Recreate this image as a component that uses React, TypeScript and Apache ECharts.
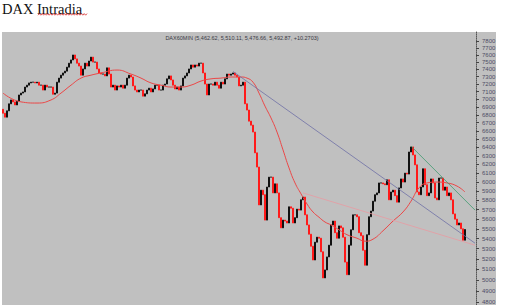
import React, { useEffect, useRef } from 'react';
import * as echarts from 'echarts';

// Hourly DAX closes (one per bar)
const closes: number[] = [
  6820, 6770, 6850, 6940, 6990, 6965, 6925, 6975, 7055, 7080, 7095, 7160, 7185, 7215, 7225, 7225, 7215, 7225, 7185, 7185,
  7120, 7185, 7160, 7160, 7160, 7065, 7080, 7225, 7280, 7320, 7350, 7375, 7430, 7485, 7530, 7600, 7545, 7485, 7445, 7320,
  7405, 7485, 7445, 7515, 7570, 7500, 7500, 7405, 7350, 7335, 7335, 7310, 7420, 7335, 7160, 7185, 7120, 7175, 7160, 7185,
  7145, 7185,
  7280, 7320, 7295, 7175, 7120, 7095, 7120, 7120, 7040, 7070, 7120, 7145, 7095, 7135, 7185, 7185, 7120, 7120, 7185, 7200,
  7270, 7310, 7255, 7185, 7135, 7160, 7120, 7175, 7280, 7310, 7350, 7405, 7460, 7430, 7460, 7445, 7485, 7485, 7350, 7200,
  7055, 7200, 7200, 7185, 7225, 7185, 7145, 7225, 7200, 7270, 7335, 7320, 7335, 7350, 7320, 7295, 7175, 7185, 7225, 6940,
  6860, 6720, 6670, 6585, 6335, 6170, 5750, 5910, 5860, 5590, 5945, 6055, 6055, 5880, 5980, 5880, 5615, 5510, 5590, 5580,
  5560, 5730, 5715, 5560, 5615, 5705, 5695, 5805, 5835, 5645, 5540, 5445, 5325, 5190, 5365, 5415, 5405, 5270, 5020, 5095,
  5220, 5335, 5540,
  5580, 5460, 5405, 5530, 5510, 5415, 5170, 5050, 5335, 5490, 5645, 5645, 5625, 5460, 5430, 5285, 5140, 5440, 5625, 5685,
  5790, 5860, 5880, 5990, 5990, 5980, 5970, 6025, 5805, 5890, 5910, 5850, 5780, 5935, 6035, 6000, 6100, 6090, 6345, 6405,
  6310, 6195, 5890, 5860, 5945, 6150, 5970, 5850, 5880, 6035, 5990, 5825, 5805, 6045, 6045, 5910, 5945, 5850, 5880, 5805,
  5655, 5600, 5540, 5560, 5500, 5385, 5493,
];
const firstOpen = 6870;

// Moving average: [bar index, price]
const movingAvg: [number, number][] = [
  [0, 7080], [9, 6965], [17, 6950], [24, 6990], [29, 7080], [34, 7185], [39, 7280], [44, 7320], [49, 7350], [57, 7390],
  [64, 7335], [69, 7280], [74, 7215], [79, 7185], [84, 7160], [89, 7160], [94, 7185], [99, 7240], [104, 7270], [109, 7280],
  [114, 7295], [119, 7295], [122, 7280], [125, 7225], [128, 7080], [131, 6910], [134, 6760], [137, 6585], [140, 6370],
  [143, 6160], [146, 5990], [149, 5870], [152, 5760], [155, 5675], [158, 5620], [161, 5570], [164, 5540], [168, 5490],
  [172, 5440], [177, 5405], [181, 5375], [185, 5395], [190, 5480], [195, 5580], [200, 5675], [204, 5790], [208, 5935],
  [212, 5990], [217, 6000], [222, 5990], [227, 5955], [231, 5890],
];

// Trend lines: [bar index, price]
const blueTrend: [number, number][] = [[115, 7370], [236, 5355]];
const pinkTrend: [number, number][] = [[150, 5880], [236, 5335]];
const greenTrend: [number, number][] = [[204, 6415], [236, 5695]];

const yTicks = [4800, 4900, 5000, 5100, 5200, 5300, 5400, 5500, 5600, 5700, 5800, 5900, 6000, 6100, 6200, 6300, 6400,
  6500, 6600, 6700, 6800, 6900, 7000, 7100, 7200, 7300, 7400, 7500, 7600, 7700, 7800];
const slotCount = 237;
const headerText = 'DAX60MIN (5,462.62, 5,510.11, 5,476.66, 5,492.87, +10.2703)';

export default function App() {
  const ref = useRef<HTMLDivElement>(null);
  useEffect(() => {
    const chart = echarts.init(ref.current!, null, { renderer: 'svg' });
    const cats = Array.from({ length: slotCount }, (_, i) => String(i));
    const ln = Math.log;
    const candle = closes.map((c, i) => {
      const o = i === 0 ? firstOpen : closes[i - 1];
      return [ln(o), ln(c), ln(Math.min(o, c)), ln(Math.max(o, c))];
    });
    const toLn = (arr: [number, number][]) => arr.map(([i, p]) => [i, ln(p)]);
    const squiggle: number[][] = [];
    for (let x = 38, k = 0; x <= 88; x += 1.4, k++) squiggle.push([x, k % 2 ? 13.6 : 15.2]);

    chart.setOption({
      animation: false,
      backgroundColor: '#ffffff',
      grid: { left: 2, right: 35, top: 32, bottom: 0, containLabel: false },
      xAxis: {
        type: 'category',
        data: cats,
        boundaryGap: true,
        show: false,
      },
      yAxis: {
        type: 'value',
        position: 'right',
        min: ln(4774),
        max: ln(7932),
        splitLine: { show: false },
        axisLine: { show: true, lineStyle: { color: '#555', type: 'dotted', width: 1 } },
        axisTick: { show: true, length: 3, customValues: yTicks.map(ln), lineStyle: { color: '#444' } },
        axisLabel: {
          show: true,
          customValues: yTicks.map(ln),
          formatter: (v: number) => String(Math.round(Math.exp(v))),
          fontSize: 6,
          fontFamily: 'Liberation Sans',
          color: '#4d4d66',
          margin: 6,
        },
      },
      graphic: [
        { type: 'rect', z: -10, silent: true, shape: { x: 2, y: 32, width: 494, height: 273 }, style: { fill: '#c0c0c0' } },
        {
          type: 'text', x: 2, y: 1, silent: true,
          style: { text: 'DAX Intradia', fontFamily: 'Liberation Serif', fontSize: 14.5, fill: '#111', verticalAlign: 'top', align: 'left' },
        },
        { type: 'polyline', silent: true, shape: { points: squiggle }, style: { stroke: '#d42020', lineWidth: 0.8, fill: 'none' } },
        {
          type: 'text', x: 242, y: 38, silent: true,
          style: { text: headerText, fontFamily: 'Liberation Sans', fontSize: 5.5, fill: '#3a3a44', align: 'center', verticalAlign: 'middle' },
        },
      ],
      series: [
        {
          type: 'candlestick',
          data: candle,
          barWidth: 1.6,
          itemStyle: { color: '#111111', color0: '#ff1a1a', borderColor: '#111111', borderColor0: '#ff1a1a', borderWidth: 1 },
          z: 3,
        },
        {
          type: 'line', data: toLn(movingAvg), smooth: true, symbol: 'none', z: 4,
          lineStyle: { color: '#ec4747', width: 1 },
        },
        { type: 'line', data: toLn(blueTrend), symbol: 'none', z: 4, lineStyle: { color: '#6f70a6', width: 0.8 } },
        { type: 'line', data: toLn(pinkTrend), symbol: 'none', z: 4, lineStyle: { color: '#e99aa2', width: 0.8 } },
        { type: 'line', data: toLn(greenTrend), symbol: 'none', z: 4, lineStyle: { color: '#3f9a6e', width: 0.8 } },
      ],
    });
    return () => chart.dispose();
  }, []);
  return <div ref={ref} style={{ position: 'fixed', left: 0, top: 0, width: 511, height: 305 }} />;
}
